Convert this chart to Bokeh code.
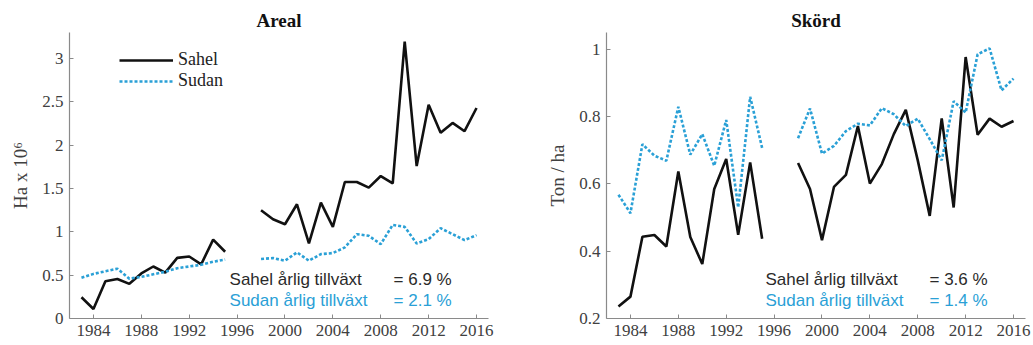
import math
from bokeh.plotting import figure
from bokeh.layouts import row
from bokeh.models import FixedTicker, Label, Legend, LegendItem, ColumnDataSource
from bokeh.embed import file_html
from bokeh.resources import INLINE

nan = float("nan")

years = list(range(1983, 2017))

sahel_area = [0.245, 0.11, 0.43, 0.456, 0.40, 0.52, 0.60, 0.53, 0.70, 0.715, 0.625, 0.91, 0.77,
              nan, nan,
              1.25, 1.145, 1.088, 1.318, 0.866, 1.337, 1.057, 1.575, 1.575, 1.51, 1.644, 1.56,
              3.195, 1.759, 2.467, 2.142, 2.257, 2.161, 2.429]
sudan_area = [0.47, 0.515, 0.545, 0.575, 0.46, 0.48, 0.51, 0.54, 0.58, 0.60, 0.62, 0.655, 0.68,
              nan, nan,
              0.686, 0.697, 0.667, 0.763, 0.667, 0.743, 0.755, 0.82, 0.973, 0.954, 0.858, 1.08,
              1.057, 0.866, 0.916, 1.042, 0.973, 0.904, 0.962]

sahel_yield = [0.236, 0.265, 0.443, 0.448, 0.414, 0.637, 0.442, 0.362, 0.585, 0.674, 0.449, 0.664, 0.437,
               nan, nan,
               0.662, 0.585, 0.433, 0.591, 0.627, 0.772, 0.601, 0.659, 0.748, 0.82, 0.67, 0.505,
               0.795, 0.53, 0.977, 0.746, 0.794, 0.77, 0.787]
sudan_yield = [0.568, 0.513, 0.718, 0.684, 0.669, 0.829, 0.687, 0.748, 0.654, 0.79, 0.53, 0.859, 0.707,
               nan, nan,
               0.736, 0.824, 0.69, 0.713, 0.757, 0.779, 0.774, 0.825, 0.807, 0.772, 0.794, 0.733,
               0.67, 0.846, 0.812, 0.985, 1.003, 0.878, 0.913]

x_ticks = [1984, 1988, 1992, 1996, 2000, 2004, 2008, 2012, 2016]
area_ticks = [0, 0.5, 1, 1.5, 2, 2.5, 3]
area_tick_labels = ["0", "0.5", "1", "1.5", "2", "2.5", "3"]
yield_ticks = [0.2, 0.4, 0.6, 0.8, 1.0]
yield_tick_labels = ["0.2", "0.4", "0.6", "0.8", "1"]

growth_area = {"Sahel": 6.9, "Sudan": 2.1}
growth_yield = {"Sahel": 3.6, "Sudan": 1.4}

BLACK = "#111111"
BLUE = "#2aa0d6"
SERIF = "Liberation Serif"
SANS = "Liberation Sans"
AXIS_GRAY = "#8a8a8a"
TEXT_GRAY = "#404040"


def make_fig(title, ylabel, yr, ticks, tick_labels, width, left, right):
    p = figure(width=width, height=345, x_range=(1982, 2017), y_range=yr,
               output_backend="svg", toolbar_location=None,
               min_border_left=left, min_border_right=right,
               min_border_top=32, min_border_bottom=27)
    p.title.text = title
    p.title.align = "center"
    p.title.text_font = SERIF
    p.title.text_font_size = "19px"
    p.title.text_font_style = "bold"
    p.title.text_color = "#111111"
    p.title.standoff = 3
    p.outline_line_color = None
    p.grid.visible = False
    p.background_fill_color = "white"
    p.border_fill_color = "white"
    for ax in (p.xaxis[0], p.yaxis[0]):
        ax.axis_line_color = AXIS_GRAY
        ax.axis_line_width = 1.2
        ax.major_tick_line_color = AXIS_GRAY
        ax.major_tick_in = 4
        ax.major_tick_out = 0
        ax.minor_tick_line_color = None
        ax.major_label_text_font = SERIF
        ax.major_label_text_font_size = "17px"
        ax.major_label_text_color = TEXT_GRAY
    p.xaxis[0].ticker = FixedTicker(ticks=x_ticks)
    p.xaxis[0].major_label_standoff = 6
    p.yaxis[0].ticker = FixedTicker(ticks=ticks)
    p.yaxis[0].major_label_overrides = {t: l for t, l in zip(ticks, tick_labels)}
    p.yaxis[0].major_label_standoff = 6
    p.yaxis[0].axis_label = ylabel
    p.yaxis[0].axis_label_text_font = SERIF
    p.yaxis[0].axis_label_text_font_size = "19px"
    p.yaxis[0].axis_label_text_font_style = "normal"
    p.yaxis[0].axis_label_text_color = TEXT_GRAY
    p.yaxis[0].axis_label_standoff = 8
    return p


def add_lines(p, sahel, sudan):
    src = ColumnDataSource(dict(x=years, sahel=sahel, sudan=sudan))
    r1 = p.line("x", "sahel", source=src, line_color=BLACK, line_width=2.6)
    r2 = p.line("x", "sudan", source=src, line_color=BLUE, line_width=2.6, line_dash="3 2")
    return r1, r2


def add_growth(p, growth, x_text, x_eq, y1, y2):
    for name, y, col in (("Sahel", y1, "#2a2a2a"), ("Sudan", y2, BLUE)):
        p.add_layout(Label(x=x_text, y=y, text=f"{name} årlig tillväxt", text_font=SANS,
                           text_font_size="17px", text_color=col, text_baseline="middle"))
        p.add_layout(Label(x=x_eq, y=y, text=f"= {growth[name]} %", text_font=SANS,
                           text_font_size="17px", text_color=col, text_baseline="middle"))


p1 = make_fig("Areal", "Ha x 10⁶", (0, 3.3), area_ticks, area_tick_labels, 544, 69, 56)
s1, u1 = add_lines(p1, sahel_area, sudan_area)
add_growth(p1, growth_area, 1995.37, 2009.07, 0.448, 0.207)
legend = Legend(items=[LegendItem(label="Sahel", renderers=[s1]),
                       LegendItem(label="Sudan", renderers=[u1])],
                location=(50, 227), padding=0, margin=0, spacing=0,
                glyph_width=54, glyph_height=20, label_height=20, label_standoff=5,
                label_text_font=SERIF, label_text_font_size="18px",
                label_text_color="#222222",
                border_line_color=None, background_fill_alpha=0)
p1.add_layout(legend, "center")

p2 = make_fig("Skörd", "Ton / ha", (0.2, 1.05), yield_ticks, yield_tick_labels, 489, 62, 8)
add_lines(p2, sahel_yield, sudan_yield)
add_growth(p2, growth_yield, 1995.28, 2008.98, 0.316, 0.253)

layout = row(p1, p2)
open("out.html", "w").write(file_html(layout, INLINE))
